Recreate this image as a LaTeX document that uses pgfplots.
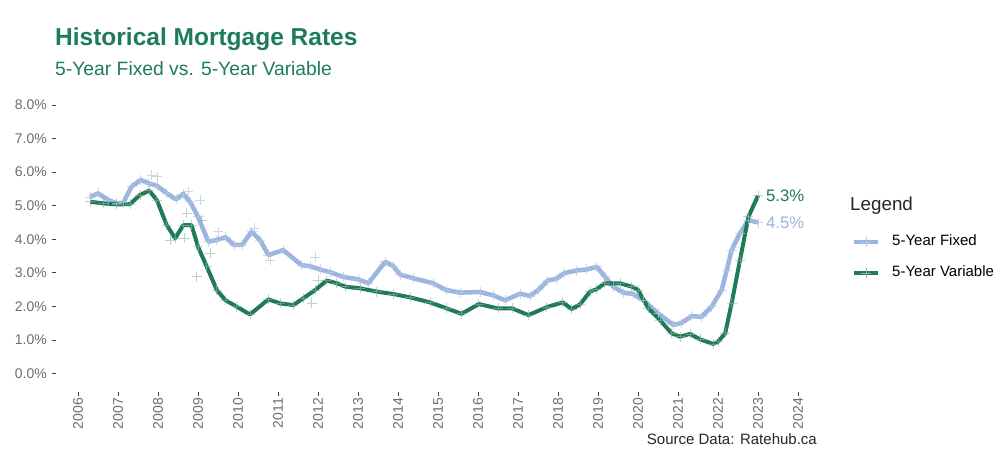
\documentclass[border=0pt]{standalone}
\usepackage{fontspec}
\setmainfont{Liberation Sans}
\usepackage{pgfplots}
\pgfplotsset{compat=1.18}
\usepackage{pgfplotstable}

\definecolor{titlegreen}{HTML}{1E7B5C}
\definecolor{varc}{HTML}{1E7A57}
\definecolor{fixc}{HTML}{9CB4E0}
\definecolor{tickgrey}{HTML}{6E6E6E}
\definecolor{fixcross}{HTML}{B3C7DF}
\definecolor{varcross}{HTML}{8FB5A6}

% 5-year fixed rate (%), smoothed
\pgfplotstableread{
year value
2006.30 5.26
2006.50 5.37
2006.76 5.17
2006.97 5.07
2007.13 5.09
2007.34 5.57
2007.57 5.77
2007.76 5.67
2007.98 5.59
2008.22 5.37
2008.45 5.19
2008.63 5.35
2008.80 5.12
2009.00 4.67
2009.26 3.93
2009.47 3.98
2009.69 4.06
2009.90 3.83
2010.10 3.83
2010.34 4.23
2010.55 3.98
2010.76 3.53
2011.13 3.68
2011.59 3.23
2011.80 3.20
2012.05 3.10
2012.30 3.02
2012.63 2.88
2013.00 2.81
2013.26 2.69
2013.68 3.33
2013.88 3.20
2014.05 2.95
2014.38 2.84
2014.88 2.69
2015.20 2.49
2015.55 2.41
2016.05 2.43
2016.38 2.33
2016.68 2.18
2017.05 2.38
2017.30 2.31
2017.52 2.50
2017.74 2.77
2017.97 2.83
2018.15 2.99
2018.47 3.07
2018.72 3.10
2018.97 3.18
2019.18 2.88
2019.38 2.59
2019.63 2.41
2019.88 2.37
2020.13 2.19
2020.50 1.79
2020.88 1.45
2021.09 1.51
2021.34 1.71
2021.59 1.69
2021.84 1.99
2022.09 2.49
2022.22 3.08
2022.34 3.68
2022.55 4.18
2022.76 4.57
2023.00 4.50
}\fixedtbl

% 5-year variable rate (%), smoothed
\pgfplotstableread{
year value
2006.30 5.12
2006.63 5.07
2006.97 5.04
2007.30 5.05
2007.55 5.32
2007.78 5.45
2007.97 5.17
2008.22 4.42
2008.43 4.03
2008.63 4.42
2008.84 4.42
2009.00 3.78
2009.22 3.18
2009.47 2.49
2009.68 2.19
2009.97 1.99
2010.30 1.76
2010.76 2.21
2011.05 2.09
2011.38 2.04
2011.63 2.24
2011.93 2.49
2012.22 2.77
2012.47 2.69
2012.68 2.59
2013.05 2.54
2013.47 2.44
2013.88 2.37
2014.30 2.27
2014.80 2.12
2015.22 1.94
2015.59 1.78
2016.02 2.07
2016.50 1.94
2016.86 1.94
2017.26 1.74
2017.72 1.98
2018.12 2.12
2018.34 1.92
2018.55 2.06
2018.80 2.44
2018.96 2.51
2019.17 2.69
2019.55 2.69
2019.84 2.59
2020.00 2.49
2020.26 1.94
2020.55 1.59
2020.84 1.20
2021.05 1.10
2021.30 1.18
2021.55 1.02
2021.88 0.88
2022.00 0.95
2022.18 1.20
2022.34 2.09
2022.55 3.38
2022.76 4.67
2023.00 5.30
}\vartbl

% individual observations that sit off the smoothed curves
\pgfplotstableread{
year value
2007.84 5.91
2007.98 5.86
2008.76 5.42
2009.05 5.17
2009.50 4.23
2010.40 4.33
2010.80 3.38
2011.93 3.46
}\fixedraw

\pgfplotstableread{
year value
2008.30 3.98
2008.67 4.03
2008.72 4.77
2008.97 2.88
2009.09 4.57
2009.30 3.58
2011.84 2.09
2012.00 2.79
}\varraw

\begin{document}
\begin{tikzpicture}
\path[use as bounding box, fill=white] (0,0) rectangle (1002pt,462pt);

\node[anchor=base west, inner sep=0pt, text=titlegreen,
      font=\fontsize{24.5}{28}\selectfont\bfseries] at (55pt,416pt) {Historical Mortgage Rates};
\node[anchor=base west, inner sep=0pt, text=titlegreen,
      font=\fontsize{19.3}{23}\selectfont] at (55pt,386pt) {5-Year Fixed vs. 5-Year Variable};

\begin{axis}[
  at={(56pt,70pt)}, anchor=south west,
  scale only axis, width=764pt, height=305.4pt,
  xmin=2005.45, xmax=2024.55, ymin=-0.55, ymax=8.55,
  axis line style={draw=none},
  xtick={2006,2007,...,2024}, ytick={0,1,...,8},
  xtick pos=lower, ytick pos=left,
  tick align=outside, major tick length=4pt,
  tick style={color=black!75, line width=0.8pt},
  /pgf/number format/assume math mode=true,
  xticklabel={\pgfmathprintnumber[1000 sep={},fixed,precision=0]{\tick}},
  yticklabel={\pgfmathprintnumber[fixed,fixed zerofill,precision=1]{\tick}\%},
  xticklabel style={rotate=90, anchor=east, text=tickgrey, font=\fontsize{14}{16}\selectfont, inner sep=2pt},
  yticklabel style={text=tickgrey, font=\fontsize{14}{16}\selectfont, inner sep=2pt, xshift=-3pt},
  legend style={at={(axis description cs:1.0415,0.5155)}, anchor=north west,
    draw=none, fill=none, inner sep=0pt, outer sep=0pt, font=\fontsize{15}{18}\selectfont,
    nodes={inner sep=0pt, text height=11pt, text depth=4pt},
    column sep=12pt, row sep=16pt},
  legend cell align=left,
  legend image code/.code={\draw[mark repeat=2, mark phase=2, #1] plot coordinates {(0pt,0pt) (12pt,0pt) (24pt,0pt)};},
  clip=false,
]
\addlegendimage{fixc, line width=4.5pt, mark=+, mark options={fixcross, line width=0.8pt, mark size=5pt}}
\addlegendentry{5-Year Fixed}
\addlegendimage{varc, line width=4pt, mark=+, mark options={varcross, line width=0.8pt, mark size=5pt}}
\addlegendentry{5-Year Variable}

\addplot[fixc, line width=4.5pt, line join=round, forget plot] table[x=year, y=value] {\fixedtbl};
\addplot[varc, line width=4pt, line join=round, forget plot] table[x=year, y=value] {\vartbl};

\addplot[only marks, mark=+, mark size=5pt, mark options={fixcross, line width=0.8pt, opacity=0.7}, forget plot] table[x=year, y=value] {\fixedtbl};
\addplot[only marks, mark=+, mark size=5pt, mark options={fixcross, line width=0.8pt, opacity=0.7}, forget plot] table[x=year, y=value] {\fixedraw};
\addplot[only marks, mark=+, mark size=5pt, mark options={varcross, line width=0.8pt, opacity=0.6}, forget plot] table[x=year, y=value] {\vartbl};
\addplot[only marks, mark=+, mark size=5pt, mark options={varcross, line width=0.8pt, opacity=0.6}, forget plot] table[x=year, y=value] {\varraw};

\node[anchor=west, inner sep=0pt, xshift=8pt, text=varc, font=\fontsize{16.7}{20}\selectfont] at (axis cs:2023,5.3) {5.3\%};
\node[anchor=west, inner sep=0pt, xshift=8pt, text=fixc, font=\fontsize{16.7}{20}\selectfont] at (axis cs:2023,4.5) {4.5\%};
\end{axis}

\node[anchor=base west, inner sep=0pt, text=black!85, font=\fontsize{18.8}{22}\selectfont] at (850pt,251.3pt) {Legend};
\node[anchor=base east, inner sep=0pt, text=black!85, font=\fontsize{15}{18}\selectfont] at (817pt,17pt) {Source Data: Ratehub.ca};
\end{tikzpicture}
\end{document}
